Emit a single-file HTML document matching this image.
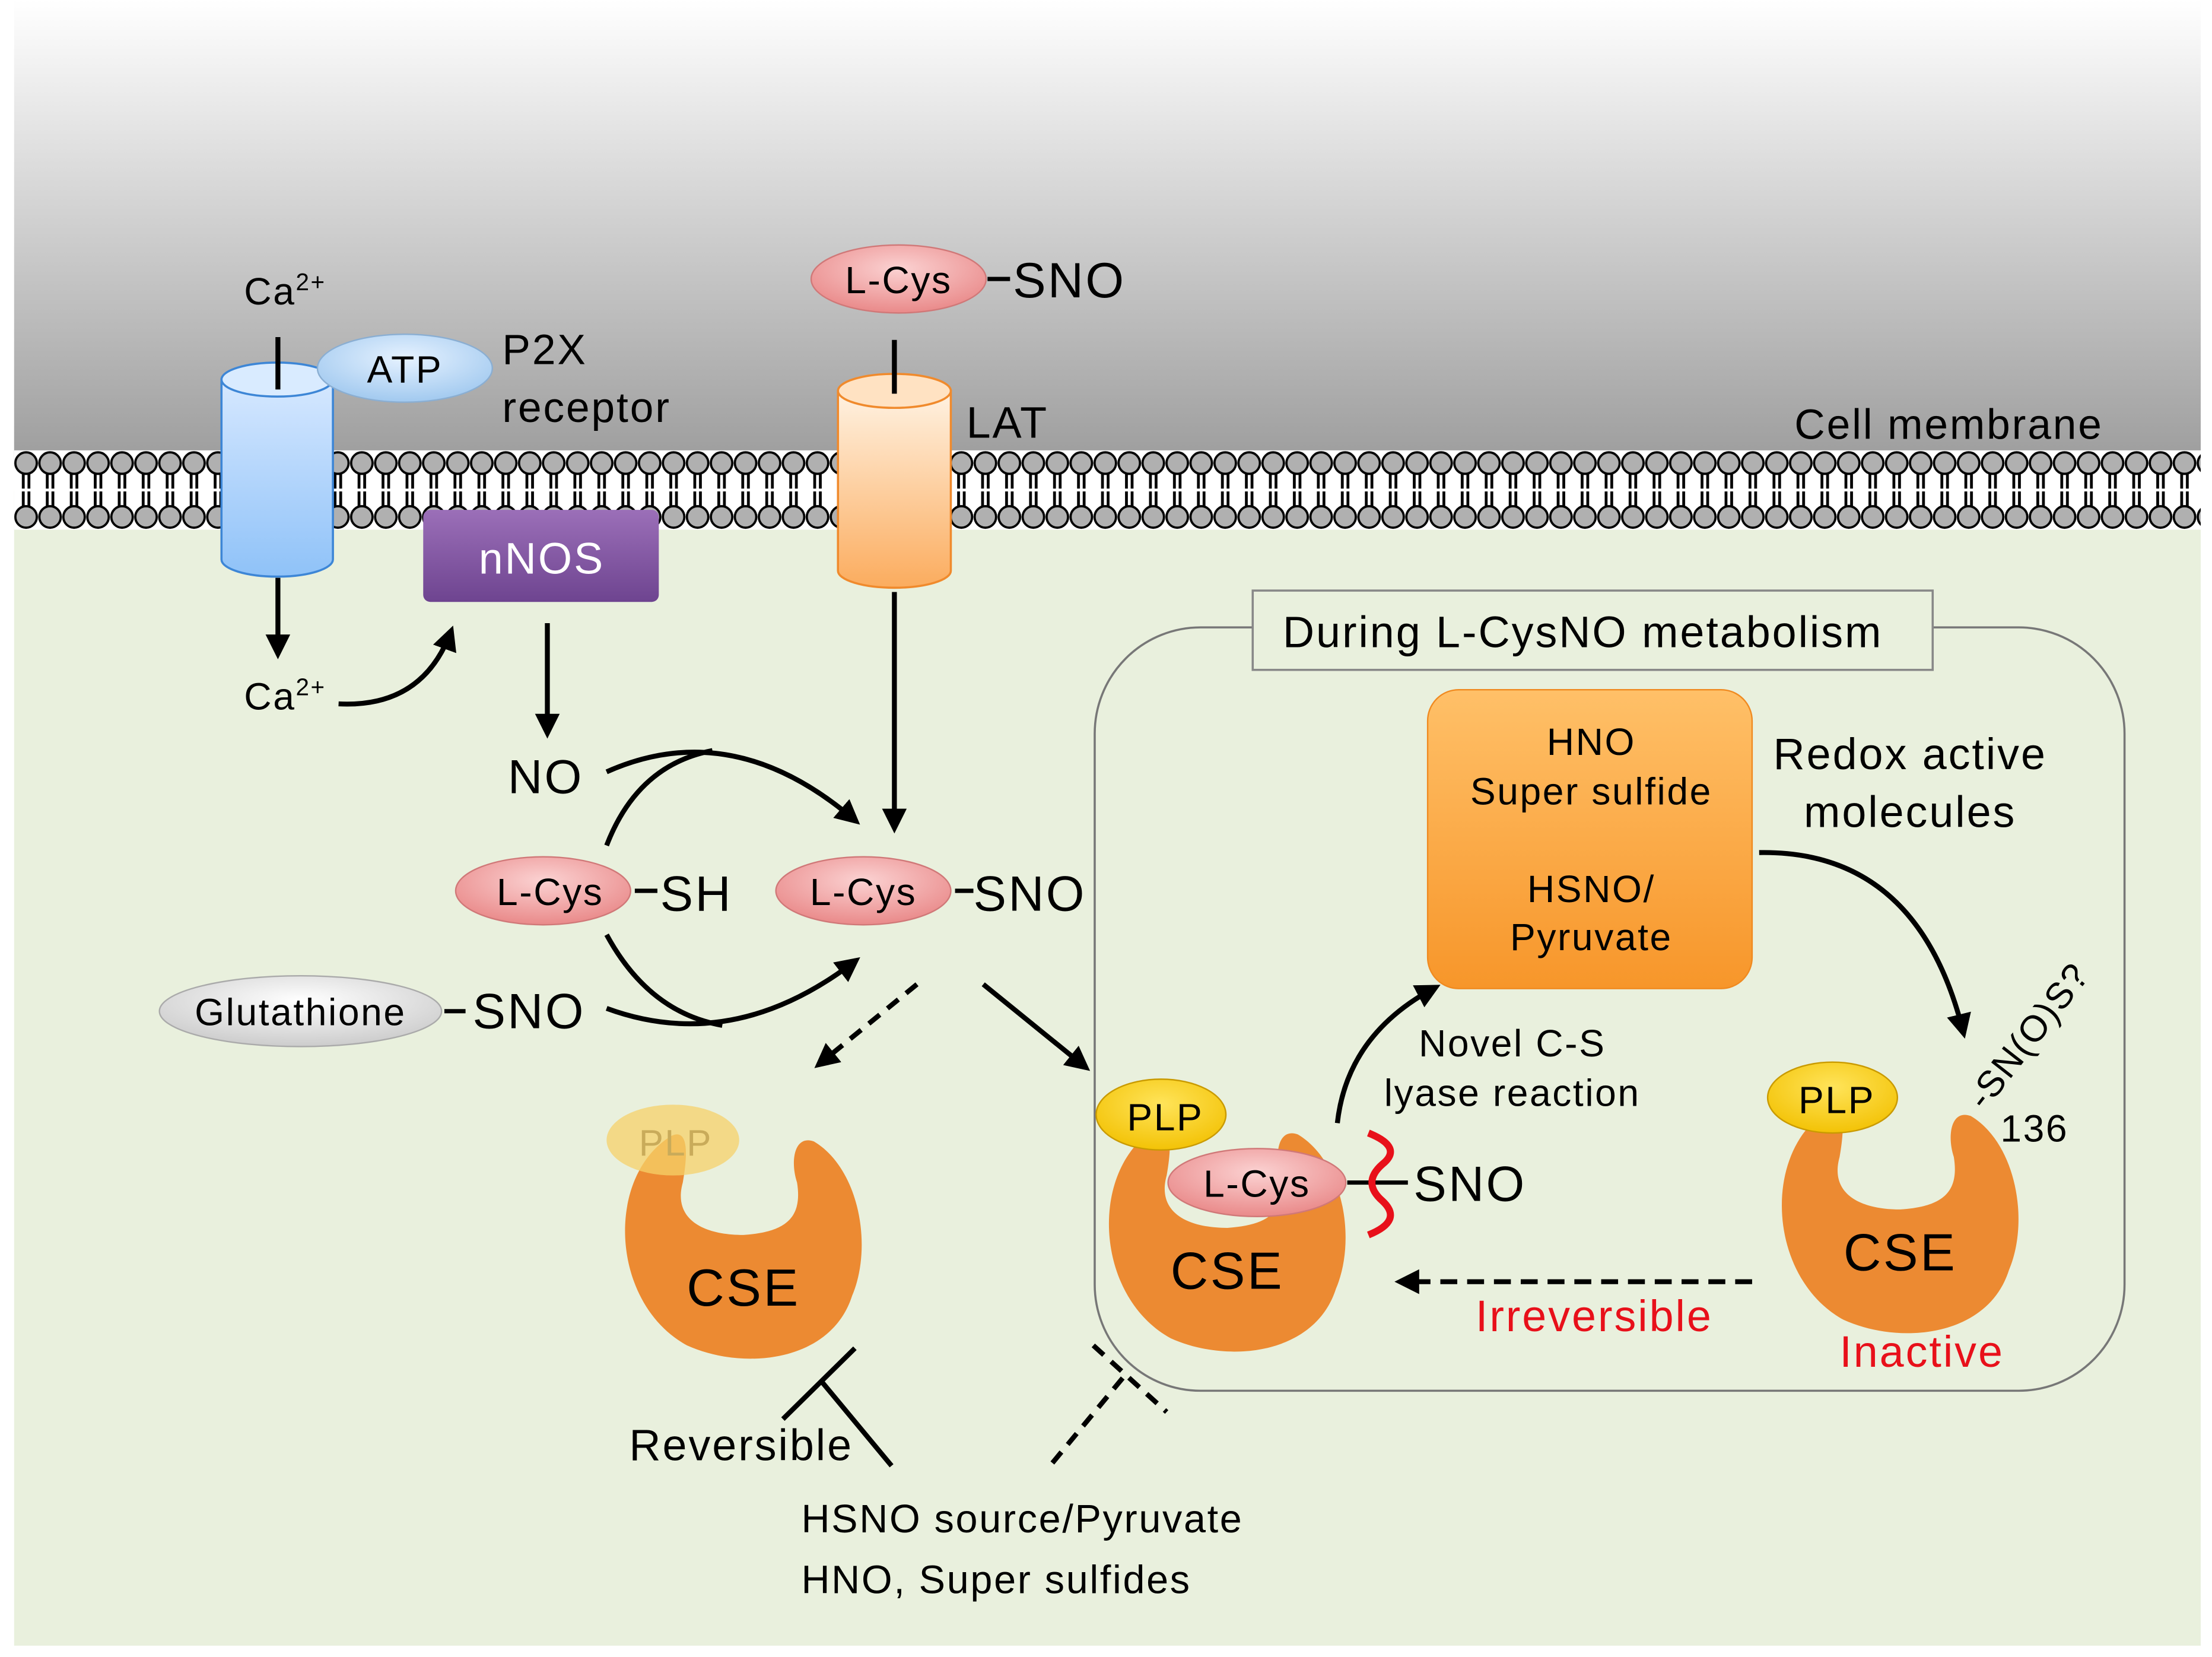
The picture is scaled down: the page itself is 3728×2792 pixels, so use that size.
<!DOCTYPE html>
<html><head><meta charset="utf-8"><style>
html,body{margin:0;padding:0;background:#fff;}
svg{display:block;}
text{font-family:"Liberation Sans",sans-serif;fill:#000;letter-spacing:0.04em;}
</style></head><body>
<svg width="3728" height="2792" viewBox="0 0 1568 1170" preserveAspectRatio="none" xmlns="http://www.w3.org/2000/svg">
<defs>
<linearGradient id="top" x1="0" y1="0" x2="0" y2="1">
<stop offset="0" stop-color="#ffffff"/><stop offset="1" stop-color="#9c9c9c"/></linearGradient>
<linearGradient id="blue" x1="0" y1="0" x2="0" y2="1"><stop offset="0" stop-color="#d6e8ff"/><stop offset="1" stop-color="#8fc2f8"/></linearGradient>
<linearGradient id="orc" x1="0" y1="0" x2="0" y2="1"><stop offset="0" stop-color="#fff2e2"/><stop offset="1" stop-color="#fbac5e"/></linearGradient>
<linearGradient id="purp" x1="0" y1="0" x2="0" y2="1"><stop offset="0" stop-color="#9b6fb8"/><stop offset="1" stop-color="#6e4490"/></linearGradient>
<radialGradient id="pink" cx="0.5" cy="0.35" r="0.7"><stop offset="0" stop-color="#fbd2d2"/><stop offset="1" stop-color="#e88484"/></radialGradient>
<radialGradient id="lb" cx="0.5" cy="0.35" r="0.7"><stop offset="0" stop-color="#e6f2ff"/><stop offset="1" stop-color="#9cc6ee"/></radialGradient>
<radialGradient id="gr" cx="0.5" cy="0.35" r="0.7"><stop offset="0" stop-color="#ffffff"/><stop offset="1" stop-color="#c8c8c8"/></radialGradient>
<radialGradient id="yel" cx="0.5" cy="0.35" r="0.7"><stop offset="0" stop-color="#ffe45a"/><stop offset="1" stop-color="#f2c000"/></radialGradient>
<linearGradient id="box" x1="0" y1="0" x2="0" y2="1"><stop offset="0" stop-color="#ffc068"/><stop offset="1" stop-color="#f7962a"/></linearGradient>
<marker id="ah" viewBox="0 0 10 10" refX="8" refY="5" markerWidth="5" markerHeight="5" orient="auto-start-reverse"><path d="M0 0 L10 5 L0 10 Z" fill="#000"/></marker>
<pattern id="mem" x="10" y="318" width="17" height="56" patternUnits="userSpaceOnUse">
<rect x="5.5" y="16" width="2" height="24" fill="#000"/><rect x="9.5" y="16" width="2" height="24" fill="#000"/>
<rect x="0" y="27" width="17" height="2" fill="#fff"/>
<circle cx="8.5" cy="9" r="7.6" fill="#b0b0b0" stroke="#000" stroke-width="1.6"/>
<circle cx="8.5" cy="47" r="7.6" fill="#b0b0b0" stroke="#000" stroke-width="1.6"/>
</pattern>
<path id="cse" d="M -51 -78 C -98 -50 -95 40 -40 70 C 0 88 62 82 77 35 C 92 0 82 -55 50 -74 C 36 -79 33 -60 38 -45 C 42 -20 30 -10 0 -8 C -30 -8 -50 -20 -43 -45 C -40 -62 -38 -84 -51 -78 Z"/>
</defs>
<rect x="10" y="0" width="1550" height="330" fill="url(#top)"/>
<rect x="10" y="345" width="1550" height="817" fill="#e9f0dd"/>
<rect x="10" y="318" width="1550" height="56" fill="#fff"/>
<rect x="10" y="318" width="1550" height="56" fill="url(#mem)"/>

<path d="M157 268 L157 395 A39 12 0 0 0 236 395 L236 268 Z" fill="url(#blue)" stroke="#3d86d6" stroke-width="1.5"/>
<ellipse cx="196.5" cy="268" rx="39.5" ry="12" fill="#d9ebff" stroke="#3d86d6" stroke-width="1.5"/>
<line x1="197" y1="238" x2="197" y2="275" stroke="#000" stroke-width="3.5"/>
<ellipse cx="287" cy="260" rx="62" ry="24" fill="url(#lb)" stroke="#8aaed2"/>
<text x="287" y="270" font-size="27" text-anchor="middle">ATP</text>
<text x="173" y="215" font-size="27">Ca<tspan font-size="17" dy="-10">2+</tspan></text>
<text x="356" y="257" font-size="30">P2X</text>
<text x="356" y="298" font-size="30">receptor</text>
<line x1="197" y1="408" x2="197" y2="462" stroke="#000" stroke-width="3.5" marker-end="url(#ah)"/>
<text x="173" y="501" font-size="27">Ca<tspan font-size="17" dy="-10">2+</tspan></text>
<path d="M240 497 Q300 500 320 445" fill="none" stroke="#000" stroke-width="3.5" marker-end="url(#ah)"/>
<rect x="300" y="360" width="167" height="65" rx="5" fill="url(#purp)"/>
<text x="384" y="405" font-size="31" text-anchor="middle" style="fill:#fff">nNOS</text>
<line x1="388" y1="440" x2="388" y2="518" stroke="#000" stroke-width="3.5" marker-end="url(#ah)"/>
<text x="360" y="560" font-size="34">NO</text>

<path d="M594 276 L594 403 A40 12 0 0 0 674 403 L674 276 Z" fill="url(#orc)" stroke="#f08a2c" stroke-width="1.5"/>
<ellipse cx="634" cy="276" rx="40" ry="12" fill="#ffe2c2" stroke="#f08a2c" stroke-width="1.5"/>
<line x1="634" y1="240" x2="634" y2="278" stroke="#000" stroke-width="3.5"/>
<text x="685" y="309" font-size="31">LAT</text>
<ellipse cx="637" cy="197" rx="62" ry="24" fill="url(#pink)" stroke="#d07878"/>
<text x="637" y="207" font-size="27" text-anchor="middle">L-Cys</text>
<line x1="700" y1="197" x2="716" y2="197" stroke="#000" stroke-width="3"/>
<text x="718" y="210" font-size="35">SNO</text>
<line x1="634" y1="418" x2="634" y2="585" stroke="#000" stroke-width="3.5" marker-end="url(#ah)"/>
<text x="1272" y="310" font-size="30">Cell membrane</text>

<ellipse cx="385" cy="629" rx="62" ry="24" fill="url(#pink)" stroke="#d07878"/>
<text x="390" y="639" font-size="27" text-anchor="middle">L-Cys</text>
<line x1="450" y1="629" x2="466" y2="629" stroke="#000" stroke-width="3"/>
<text x="468" y="643" font-size="35">SH</text>
<ellipse cx="612" cy="629" rx="62" ry="24" fill="url(#pink)" stroke="#d07878"/>
<text x="612" y="639" font-size="27" text-anchor="middle">L-Cys</text>
<line x1="677" y1="629" x2="690" y2="629" stroke="#000" stroke-width="3"/>
<text x="690" y="643" font-size="35">SNO</text>
<ellipse cx="213" cy="714" rx="100" ry="25" fill="url(#gr)" stroke="#aaa"/>
<text x="213" y="724" font-size="27" text-anchor="middle">Glutathione</text>
<line x1="315" y1="714" x2="330" y2="714" stroke="#000" stroke-width="3"/>
<text x="335" y="726" font-size="35">SNO</text>
<path d="M430 545 Q520 505 607 580" fill="none" stroke="#000" stroke-width="3.5" marker-end="url(#ah)"/>
<path d="M430 597 Q452 540 505 530" fill="none" stroke="#000" stroke-width="3.5"/>
<path d="M430 712 Q520 745 607 678" fill="none" stroke="#000" stroke-width="3.5" marker-end="url(#ah)"/>
<path d="M430 660 Q460 715 512 724" fill="none" stroke="#000" stroke-width="3.5"/>
<line x1="650" y1="695" x2="580" y2="752" stroke="#000" stroke-width="3.5" stroke-dasharray="10,7" marker-end="url(#ah)"/>
<line x1="697" y1="695" x2="770" y2="754" stroke="#000" stroke-width="3.5" marker-end="url(#ah)"/>

<g transform="translate(527,880)"><use href="#cse" fill="#ec8a32"/>
<ellipse cx="-50" cy="-75" rx="47" ry="25" fill="#f5d26a" opacity="0.75"/>
<text x="-48" y="-64" font-size="26" text-anchor="middle" style="fill:#c9ab5a">PLP</text>
<text x="0" y="42" font-size="37" text-anchor="middle">CSE</text></g>

<line x1="632" y1="1035" x2="582" y2="975" stroke="#000" stroke-width="3.5"/>
<line x1="555" y1="1002" x2="606" y2="952" stroke="#000" stroke-width="3.5"/>
<text x="446" y="1031" font-size="31">Reversible</text>
<line x1="746" y1="1033" x2="800" y2="968" stroke="#000" stroke-width="3.5" stroke-dasharray="10,7"/>
<line x1="775" y1="950" x2="827" y2="997" stroke="#000" stroke-width="3.5" stroke-dasharray="10,7"/>
<text x="568" y="1082" font-size="28">HSNO source/Pyruvate</text>
<text x="568" y="1125" font-size="28">HNO, Super sulfides</text>

<rect x="776" y="443" width="730" height="539" rx="75" fill="none" stroke="#777" stroke-width="1.5"/>
<rect x="888" y="417" width="482" height="56" fill="#e9f0dd" stroke="#888" stroke-width="1.5"/>
<text x="1122" y="457" font-size="31" text-anchor="middle">During L-CysNO metabolism</text>
<rect x="1012" y="487" width="230" height="211" rx="22" fill="url(#box)" stroke="#f08a20"/>
<text x="1128" y="533" font-size="27" text-anchor="middle">HNO</text>
<text x="1128" y="568" font-size="27" text-anchor="middle">Super sulfide</text>
<text x="1128" y="637" font-size="27" text-anchor="middle">HSNO/</text>
<text x="1128" y="671" font-size="27" text-anchor="middle">Pyruvate</text>
<text x="1354" y="543" font-size="31" text-anchor="middle">Redox active</text>
<text x="1354" y="584" font-size="31" text-anchor="middle">molecules</text>
<path d="M1247 602 Q1360 600 1392 730" fill="none" stroke="#000" stroke-width="3.5" marker-end="url(#ah)"/>
<path d="M948 793 Q955 730 1018 697" fill="none" stroke="#000" stroke-width="3.5" marker-end="url(#ah)"/>
<text x="1072" y="746" font-size="27" text-anchor="middle">Novel C-S</text>
<text x="1072" y="781" font-size="27" text-anchor="middle">lyase reaction</text>

<g transform="translate(870,875)"><use href="#cse" fill="#ec8a32"/>
<text x="0" y="35" font-size="37" text-anchor="middle">CSE</text></g>
<ellipse cx="823" cy="787" rx="46" ry="25" fill="url(#yel)" stroke="#c99a00"/>
<text x="826" y="798" font-size="27" text-anchor="middle">PLP</text>
<ellipse cx="891" cy="835" rx="63" ry="24" fill="url(#pink)" stroke="#d07878"/>
<text x="891" y="845" font-size="27" text-anchor="middle">L-Cys</text>
<line x1="955" y1="835" x2="998" y2="835" stroke="#000" stroke-width="3"/>
<path d="M970 800 Q995 810 980 822 Q965 835 980 848 Q995 862 970 872" fill="none" stroke="#e8101a" stroke-width="5"/>
<text x="1002" y="848" font-size="35">SNO</text>
<line x1="1242" y1="905" x2="992" y2="905" stroke="#000" stroke-width="3.5" stroke-dasharray="12,7" marker-end="url(#ah)"/>
<text x="1046" y="940" font-size="31" style="fill:#e8101a">Irreversible</text>

<g transform="translate(1347,862)"><use href="#cse" fill="#ec8a32"/>
<text x="0" y="35" font-size="37" text-anchor="middle">CSE</text></g>
<ellipse cx="1299" cy="775" rx="46" ry="25" fill="url(#yel)" stroke="#c99a00"/>
<text x="1302" y="786" font-size="27" text-anchor="middle">PLP</text>
<text x="1407" y="785" font-size="26" transform="rotate(-52 1407 785)">-SN(O)S?</text>
<text x="1418" y="806" font-size="27">136</text>
<text x="1304" y="965" font-size="31" style="fill:#e8101a">Inactive</text>
</svg>
</body></html>
